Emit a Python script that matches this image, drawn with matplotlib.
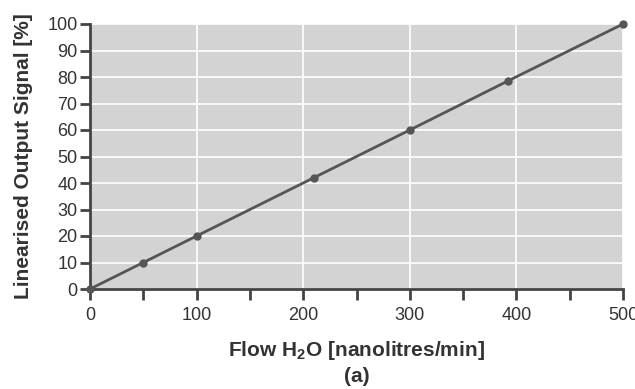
import matplotlib
matplotlib.use("Agg")
import matplotlib.pyplot as plt
from matplotlib.ticker import MultipleLocator

plt.rcParams['font.family'] = ['Liberation Sans', 'DejaVu Sans']
plt.rcParams['mathtext.fontset'] = 'custom'
plt.rcParams['mathtext.rm'] = 'Liberation Sans'
plt.rcParams['mathtext.bf'] = 'Liberation Sans:bold'

flow = [0, 50, 100, 210, 300, 392, 500]
signal = [0, 10, 20, 42, 60, 78.5, 100]
x_ticks = [0, 100, 200, 300, 400, 500]
y_ticks = [0, 10, 20, 30, 40, 50, 60, 70, 80, 90, 100]

fig = plt.figure(figsize=(6.35, 3.89), dpi=100)
ax = fig.add_axes([90/635, 1-289/389, 533/635, 265/389])
ax.set_facecolor('#d3d3d3')
dark = '#444444'

ax.set_xlim(0, 500)
ax.set_ylim(0, 100)
ax.set_xticks(x_ticks)
ax.set_yticks(y_ticks)
ax.xaxis.set_minor_locator(MultipleLocator(50))
ax.grid(True, which='major', color='white', linewidth=1.2)
ax.set_axisbelow(True)

for s in ['top', 'right']:
    ax.spines[s].set_visible(False)
for s in ['left', 'bottom']:
    ax.spines[s].set_color(dark)
    ax.spines[s].set_linewidth(2)

ax.tick_params(axis='both', which='both', color=dark, width=2, labelsize=13,
               labelcolor='#333333', direction='out')
ax.tick_params(axis='x', which='major', length=8, pad=5)
ax.tick_params(axis='x', which='minor', length=8)
ax.tick_params(axis='y', length=7, pad=2)

ax.plot(flow, signal, color='#555555', linewidth=2, marker='o', markersize=5,
        clip_on=False, zorder=3)

ax.set_xlabel('Flow H$_\\mathbf{2}$O [nanolitres/min]', fontsize=15, fontweight='bold',
              color='#333333', labelpad=11)
ax.set_ylabel('Linearised Output Signal [%]', fontsize=15, fontweight='bold',
              color='#333333', labelpad=10)
fig.text(357/635, 1-377/389, '(a)', ha='center', va='center', fontsize=15,
         fontweight='bold', color='#333333')

fig.savefig('out.png', dpi=100)
